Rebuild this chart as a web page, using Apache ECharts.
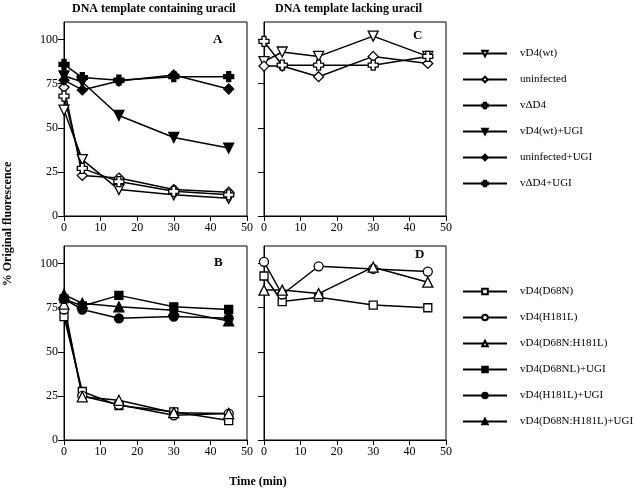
<!DOCTYPE html>
<html><head><meta charset="utf-8">
<script src="https://cdn.jsdelivr.net/npm/echarts@6/dist/echarts.min.js"></script>
<style>html,body{margin:0;padding:0;background:#fff}#c{width:635px;height:491px}</style>
</head><body><div id="c"></div>
<script>
var times = [0, 5, 15, 30, 45];
var yTicks = [0, 25, 50, 75, 100];
// Panel A (DNA template containing uracil)
var A_wt = [60, 32, 15, 12, 10];
var A_uninf = [73, 23, 21.5, 15, 13.5];
var A_dD4 = [68, 27, 19.5, 14, 12];
var A_wtUGI = [79.5, 76, 57, 44.5, 38.5];
var A_uninfUGI = [77, 71.5, 76.5, 80, 72];
var A_dD4UGI = [86, 78.5, 77, 79, 79];
// Panel C (DNA template lacking uracil)
var C_wt = [87.5, 93, 90.5, 102, 90.5];
var C_uninf = [85, 85, 79, 90.5, 86.5];
var C_dD4 = [99, 85.5, 85.5, 85.5, 90.5];
// Panel B
var B_D68N = [70, 27.5, 19.5, 16, 11];
var B_H181L = [74, 25, 20, 14, 15];
var B_DH = [77, 24.5, 22.5, 15.5, 15];
var B_D68NUGI = [80, 76, 82, 75.5, 74];
var B_H181LUGI = [80, 74, 69, 70, 69];
var B_DHUGI = [82.5, 77.5, 75.5, 73.5, 67.5];
// Panel D
var D_D68N = [93, 78.5, 81, 76.5, 75];
var D_H181L = [101, 82.5, 98.5, 97, 95.5];
var D_DH = [85, 85, 83, 98, 89.5];

var names1 = ['vD4(wt)', 'uninfected', 'v\u0394D4', 'vD4(wt)+UGI', 'uninfected+UGI', 'v\u0394D4+UGI'];
var names2 = ['vD4(D68N)', 'vD4(H181L)', 'vD4(D68N:H181L)', 'vD4(D68NL)+UGI', 'vD4(H181L)+UGI', 'vD4(D68N:H181L)+UGI'];

var FONT = '"Liberation Serif", "Times New Roman", serif';
var CROSS = 'path://M3,0 L7,0 L7,3 L10,3 L10,7 L7,7 L7,10 L3,10 L3,7 L0,7 L0,3 L3,3 Z';

function pts(vals) { return times.map(function (t, i) { return [t, vals[i]]; }); }

var grids = [
  {left: 64, top: 22, width: 183, height: 194},
  {left: 264, top: 22, width: 182, height: 194},
  {left: 64, top: 246, width: 183, height: 194},
  {left: 264, top: 246, width: 182, height: 194}
];
grids.forEach(function (g) { g.show = true; g.borderColor = '#000'; g.borderWidth = 1; g.backgroundColor = 'transparent'; });

var xAxes = grids.map(function (g, i) {
  return {
    type: 'value', gridIndex: i, min: 0, max: 50, interval: 10,
    axisLine: {show: true, lineStyle: {color: '#000', width: 1}},
    axisTick: {show: true, inside: false, length: 5, lineStyle: {color: '#000'}},
    axisLabel: {color: '#000', fontFamily: FONT, fontSize: 12, margin: 6},
    splitLine: {show: false}
  };
});
var yAxes = grids.map(function (g, i) {
  return {
    type: 'value', gridIndex: i, min: 0, max: 110,
    axisLine: {show: true, lineStyle: {color: '#000', width: 1}},
    axisTick: {show: true, inside: false, length: 6, lineStyle: {color: '#000'}, customValues: yTicks},
    axisLabel: {show: (i % 2 === 0), color: '#000', fontFamily: FONT, fontSize: 12, margin: 6, customValues: yTicks},
    splitLine: {show: false}
  };
});

function ser(name, vals, gi, symbol, filled, rotate) {
  return {
    name: name, type: 'line', xAxisIndex: gi, yAxisIndex: gi, data: pts(vals),
    symbol: symbol, symbolSize: symbol === 'circle' ? 9 : (symbol === 'rect' ? 8 : 10), symbolRotate: rotate || 0,
    showAllSymbol: true,
    lineStyle: {color: '#000', width: 1.5},
    itemStyle: {color: filled ? '#000' : '#fff', borderColor: '#000', borderWidth: 1.3},
    emphasis: {disabled: true}, animation: false, z: 3
  };
}

var series = [
  ser(names1[0], A_wt, 0, 'triangle', false, 180),
  ser(names1[1], A_uninf, 0, 'diamond', false),
  ser(names1[2], A_dD4, 0, CROSS, false),
  ser(names1[3], A_wtUGI, 0, 'triangle', true, 180),
  ser(names1[4], A_uninfUGI, 0, 'diamond', true),
  ser(names1[5], A_dD4UGI, 0, CROSS, true),
  ser(names1[0], C_wt, 1, 'triangle', false, 180),
  ser(names1[1], C_uninf, 1, 'diamond', false),
  ser(names1[2], C_dD4, 1, CROSS, false),
  ser(names2[0], B_D68N, 2, 'rect', false),
  ser(names2[1], B_H181L, 2, 'circle', false),
  ser(names2[2], B_DH, 2, 'triangle', false),
  ser(names2[3], B_D68NUGI, 2, 'rect', true),
  ser(names2[4], B_H181LUGI, 2, 'circle', true),
  ser(names2[5], B_DHUGI, 2, 'triangle', true),
  ser(names2[0], D_D68N, 3, 'rect', false),
  ser(names2[1], D_H181L, 3, 'circle', false),
  ser(names2[2], D_DH, 3, 'triangle', false)
];

function legend(data, top) {
  return {
    data: data, orient: 'vertical', left: 457, top: top, itemWidth: 44, itemHeight: 7, itemGap: 15,
    selectedMode: false, textStyle: {color: '#000', fontFamily: FONT, fontSize: 11, padding: [0, 0, 0, 8]},
    inactiveColor: '#000'
  };
}

var chart = echarts.init(document.getElementById('c'), null, {renderer: 'canvas'});
chart.setOption({
  animation: false,
  backgroundColor: '#fff',
  grid: grids, xAxis: xAxes, yAxis: yAxes, series: series,
  legend: [legend(names1, 43), legend(names2, 281)],
  graphic: [
    {type: 'text', left: 72, top: 3, style: {text: 'DNA template containing uracil', font: 'bold 12px ' + FONT, fill: '#000'}},
    {type: 'text', left: 275, top: 3, style: {text: 'DNA template lacking uracil', font: 'bold 12px ' + FONT, fill: '#000'}},
    {type: 'text', left: 213, top: 33, style: {text: 'A', font: 'bold 13px ' + FONT, fill: '#000'}},
    {type: 'text', left: 413, top: 29, style: {text: 'C', font: 'bold 13px ' + FONT, fill: '#000'}},
    {type: 'text', left: 214, top: 256, style: {text: 'B', font: 'bold 13px ' + FONT, fill: '#000'}},
    {type: 'text', left: 415, top: 248, style: {text: 'D', font: 'bold 13px ' + FONT, fill: '#000'}},
    {type: 'text', x: 8, y: 224, rotation: Math.PI / 2, style: {text: '% Original fluorescence', font: 'bold 12px ' + FONT, fill: '#000', align: 'center', verticalAlign: 'middle'}},
    {type: 'text', x: 258, y: 482, style: {text: 'Time (min)', font: 'bold 12px ' + FONT, fill: '#000', align: 'center', verticalAlign: 'middle'}}
  ]
});
</script></body></html>
